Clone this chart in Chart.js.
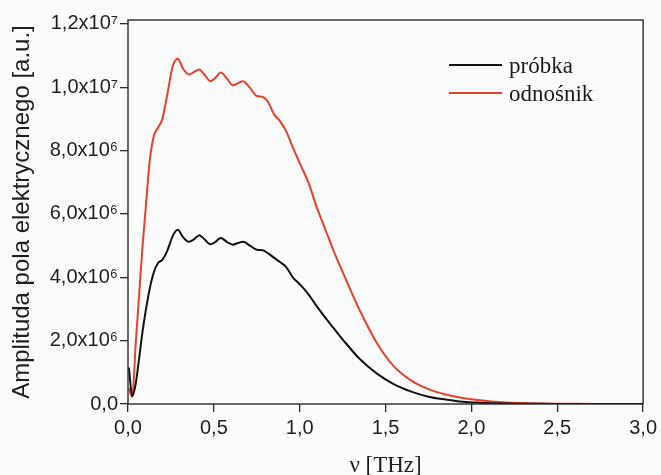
<!DOCTYPE html>
<html>
<head>
<meta charset="utf-8">
<script src="https://cdn.jsdelivr.net/npm/chart.js@4/dist/chart.umd.min.js"></script>
<style>
  html, body { margin: 0; padding: 0; background: #fdfcfc; }
  #wrap { width: 661px; height: 475px; }
</style>
</head>
<body>
<div id="wrap"><canvas id="chart" width="661" height="475"></canvas></div>
<script>
// frequency grid [THz]
let freq = [0.005, 0.025, 0.045, 0.065, 0.085, 0.105, 0.125, 0.15, 0.175, 0.2,
  0.23, 0.26, 0.29, 0.32, 0.355, 0.385, 0.415, 0.445, 0.48, 0.51,
  0.54, 0.575, 0.61, 0.64, 0.67, 0.71, 0.75, 0.785, 0.815, 0.85,
  0.885, 0.92, 0.96, 1.0, 1.05, 1.1, 1.15, 1.2, 1.27, 1.35,
  1.45, 1.55, 1.65, 1.75, 1.85, 1.95, 2.05, 2.2, 2.4, 2.6, 2.8, 3.0];

// amplitudes in units of 1e6 a.u.
let probka = [1.15, 0.25, 0.64, 1.45, 2.3, 3.0, 3.6, 4.15, 4.45, 4.55,
  4.85, 5.3, 5.5, 5.27, 5.12, 5.2, 5.33, 5.2, 5.04, 5.12,
  5.24, 5.12, 5.03, 5.08, 5.12, 5.0, 4.87, 4.85, 4.76, 4.62,
  4.48, 4.33, 4.0, 3.78, 3.47, 3.08, 2.72, 2.38, 1.91, 1.42,
  0.96, 0.62, 0.39, 0.23, 0.14, 0.07, 0.04, 0.015, 0.005, 0.003, 0.002, 0.001];

let odnosnik = [0.5, 0.22, 1.9, 3.45, 5.0, 6.3, 7.6, 8.45, 8.72, 9.0,
  9.8, 10.65, 10.9, 10.59, 10.4, 10.48, 10.56, 10.4, 10.19, 10.3,
  10.46, 10.28, 10.06, 10.12, 10.19, 9.98, 9.72, 9.69, 9.54, 9.15,
  8.93, 8.62, 8.1, 7.6, 7.0, 6.2, 5.5, 4.8, 3.92, 2.95,
  1.92, 1.18, 0.74, 0.47, 0.3, 0.19, 0.115, 0.05, 0.015, 0.005, 0.003, 0.002];

let xTicks = [0, 0.5, 1.0, 1.5, 2.0, 2.5, 3.0];
let yTicks = [0, 2, 4, 6, 8, 10, 12];

const sans = "'Liberation Sans', Arial, sans-serif";
const serif = "'Liberation Serif', 'Times New Roman', serif";
const axisColor = '#2a2a2a';

function yLabel(v) {
  if (v === 0) return '0,0';
  if (v >= 10) return (v / 10).toFixed(1).replace('.', ',') + 'x10\u2077';
  return v.toFixed(1).replace('.', ',') + 'x10\u2076';
}

const framePlugin = {
  id: 'frame',
  afterDatasetsDraw(chart) {
    const { ctx, chartArea: a } = chart;
    ctx.save();
    ctx.strokeStyle = axisColor;
    ctx.lineWidth = 1.4;
    ctx.strokeRect(a.left, a.top, a.right - a.left, a.bottom - a.top);
    ctx.restore();
  }
};

const legendPlugin = {
  id: 'customLegend',
  afterDraw(chart) {
    const { ctx } = chart;
    ctx.save();
    ctx.font = '23px ' + serif;
    ctx.textBaseline = 'alphabetic';
    chart.data.datasets.forEach((ds, i) => {
      let y = 65 + i * 28;
      ctx.strokeStyle = ds.borderColor;
      ctx.lineWidth = 2;
      ctx.beginPath();
      ctx.moveTo(449, y);
      ctx.lineTo(502, y);
      ctx.stroke();
      ctx.fillStyle = '#1a1a1a';
      ctx.fillText(ds.label, 509, y + 8);
    });
    ctx.restore();
  }
};

let chart = new Chart(document.getElementById('chart'), {
  type: 'line',
  data: {
    labels: freq,
    datasets: [
      {
        label: 'próbka',
        data: freq.map((f, i) => ({ x: f, y: probka[i] })),
        borderColor: '#111111',
        borderWidth: 2,
        pointRadius: 0,
        cubicInterpolationMode: 'monotone',
        fill: false
      },
      {
        label: 'odnośnik',
        data: freq.map((f, i) => ({ x: f, y: odnosnik[i] })),
        borderColor: '#e8402a',
        borderWidth: 2,
        pointRadius: 0,
        cubicInterpolationMode: 'monotone',
        fill: false
      }
    ]
  },
  options: {
    responsive: false,
    animation: false,
    layout: { padding: { top: 20, right: 17, left: 0, bottom: 0 } },
    plugins: {
      legend: { display: false },
      tooltip: { enabled: false }
    },
    scales: {
      x: {
        type: 'linear',
        min: 0,
        max: 3,
        afterBuildTicks: s => { s.ticks = xTicks.map(v => ({ value: v })); },
        afterFit: s => { s.height = 71; },
        grid: { drawOnChartArea: false, drawTicks: true, tickLength: 8, color: axisColor, lineWidth: 1.3 },
        border: { display: false },
        ticks: {
          font: { family: sans, size: 20 },
          color: '#1e1e1e',
          padding: 4,
          maxRotation: 0,
          callback: v => v.toFixed(1).replace('.', ',')
        },
        title: {
          display: true,
          text: 'ν [THz]',
          font: { family: serif, size: 23, lineHeight: 0.8 },
          color: '#1e1e1e',
          padding: { top: 4, bottom: 0 }
        }
      },
      y: {
        min: 0,
        max: 12.12,
        afterBuildTicks: s => { s.ticks = yTicks.map(v => ({ value: v })); },
        afterFit: s => { s.width = 128; },
        grid: { drawOnChartArea: false, drawTicks: true, tickLength: 8, color: axisColor, lineWidth: 1.3 },
        border: { display: false },
        ticks: {
          font: { family: sans, size: 20 },
          color: '#1e1e1e',
          padding: 2,
          callback: v => yLabel(v)
        },
        title: {
          display: true,
          text: 'Amplituda pola elektrycznego [a.u.]',
          font: { family: sans, size: 24 },
          color: '#1e1e1e',
          padding: { top: 8, bottom: 0 }
        }
      }
    }
  },
  plugins: [framePlugin, legendPlugin]
});
</script>
</body>
</html>
